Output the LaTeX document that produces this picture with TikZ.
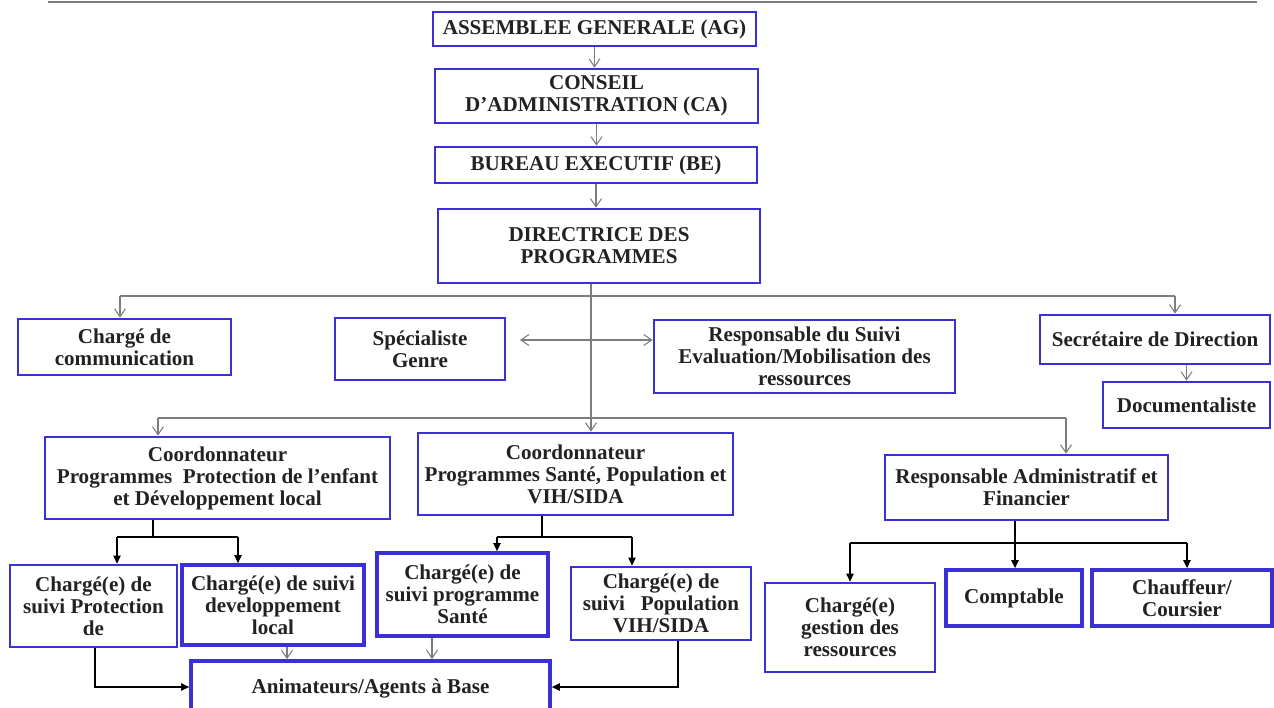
\documentclass[tikz,border=0pt]{standalone}
\usepackage{fontspec}
\setmainfont{Liberation Serif}
\usetikzlibrary{arrows.meta}
\definecolor{boxblue}{RGB}{58,48,212}
\definecolor{txtdark}{RGB}{34,34,34}
\definecolor{linegray}{RGB}{125,125,125}
\tikzset{
  box/.style={draw=boxblue,line width=1.6pt,fill=white,align=center,inner sep=0pt,
    font=\bfseries\fontsize{12}{12.5}\selectfont,text=txtdark},
  boxb/.style={box,line width=2.2pt},
  gline/.style={draw=linegray,line width=0.6pt},
  garrow/.style={gline,-{Straight Barb[length=1.6mm,width=2.2mm]}},
  gboth/.style={gline,{Straight Barb[length=1.6mm,width=2.2mm]}-{Straight Barb[length=1.6mm,width=2.2mm]}},
  bline/.style={draw=black,line width=0.6pt},
  barrow/.style={bline,-{Triangle[length=1.6mm,width=1.5mm]}}
}

\begin{document}
\begin{tikzpicture}[x=0.02cm,y=-0.02cm]
\useasboundingbox (0,0) rectangle (1274,707);
\clip (0,0) rectangle (1274,707);
\fill[white] (0,0) rectangle (1274,707);
\draw[draw=linegray,line width=1.5pt] (48,2) -- (1257,2);

% direction
\node[box,minimum width=6.46cm,minimum height=0.68cm] (ag) at (594.5,29) {ASSEMBLEE GENERALE (AG)};
\node[box,minimum width=6.46cm,minimum height=1.08cm] (ca) at (596.5,96) {CONSEIL\\D'ADMINISTRATION (CA)};
\node[box,minimum width=6.44cm,minimum height=0.72cm] (be) at (596,165) {BUREAU EXECUTIF (BE)};
\node[box,minimum width=6.44cm,minimum height=1.48cm] (dp) at (599,246) {DIRECTRICE DES\\PROGRAMMES};

% staff
\node[box,minimum width=4.26cm,minimum height=1.12cm] (com) at (124.5,347) {Chargé de\\communication};
\node[box,minimum width=3.40cm,minimum height=1.24cm] (gen) at (420,349) {Spécialiste\\Genre};
\node[box,minimum width=6.02cm,minimum height=1.46cm] (rse) at (804.5,356.5) {Responsable du Suivi\\Evaluation/Mobilisation des\\ressources};
\node[box,minimum width=4.60cm,minimum height=0.98cm] (sec) at (1155,339.5) {Secrétaire de Direction};
\node[box,minimum width=3.34cm,minimum height=0.92cm] (doc) at (1186.5,405) {Documentaliste};

% coordination
\node[box,minimum width=6.90cm,minimum height=1.64cm] (cpe) at (217.5,478) {Coordonnateur\\Programmes\ \ Protection de l'enfant\\et Développement local};
\node[box,minimum width=6.30cm,minimum height=1.64cm] (cps) at (575.5,474) {Coordonnateur\\Programmes Santé, Population et\\VIH/SIDA};
\node[box,minimum width=5.66cm,minimum height=1.30cm] (raf) at (1026.5,487.5) {Responsable Administratif et\\Financier};

% suivi
\node[box,minimum width=3.34cm,minimum height=1.64cm] (spr) at (93.5,606) {Chargé(e) de\\suivi Protection\\de};
\node[boxb,minimum width=3.64cm,minimum height=1.60cm] (sdl) at (273,605) {Chargé(e) de suivi\\developpement\\local};
\node[boxb,minimum width=3.42cm,minimum height=1.66cm] (ssa) at (462.5,594.5) {Chargé(e) de\\suivi programme\\Santé};
\node[box,minimum width=3.60cm,minimum height=1.46cm] (spo) at (661,603.5) {Chargé(e) de\\suivi\ \ \ Population\\VIH/SIDA};
\node[box,minimum width=3.40cm,minimum height=1.78cm] (gre) at (850,627.5) {Chargé(e)\\gestion des\\ressources};
\node[boxb,minimum width=2.72cm,minimum height=1.12cm] (cpt) at (1014,598) {Comptable};
\node[boxb,minimum width=3.60cm,minimum height=1.12cm] (chf) at (1182,598) {Chauffeur/\\Coursier};
\node[boxb,minimum width=7.18cm,minimum height=1.08cm] (ani) at (370.5,688) {Animateurs/Agents à Base};

% gray links
\coordinate (j1) at (591,296);
\coordinate (a1) at (120,296);
\coordinate (a2) at (1175,296);
\coordinate (g1) at (520,340);
\coordinate (b1) at (158,418);
\coordinate (b2) at (1066,418);
\draw[garrow] (ag.south) -- (ag.south |- ca.north);
\draw[garrow] (ca.south) -- (ca.south |- be.north);
\draw[garrow] (be.south) -- (be.south |- dp.north);
\draw[garrow] (j1 |- dp.south) -- (j1 |- cps.north);
\draw[gline] (a1) -- (a2);
\draw[garrow] (a1) -- (a1 |- com.north);
\draw[garrow] (a2) -- (a2 |- sec.north);
\draw[gboth] (g1) -- (g1 -| rse.west);
\draw[garrow] (doc.north |- sec.south) -- (doc.north);
\draw[gline] (b1) -- (b2);
\draw[garrow] (b1) -- (b1 |- cpe.north);
\draw[garrow] (b2) -- (b2 |- raf.north);

% black links
\coordinate (k1) at (153,537);
\coordinate (k1l) at (117,537);
\coordinate (k1r) at (238,537);
\draw[bline] (k1 |- cpe.south) -- (k1);
\draw[bline] (k1l) -- (k1r);
\draw[barrow] (k1l) -- (k1l |- spr.north);
\draw[barrow] (k1r) -- (k1r |- sdl.north);
\coordinate (k2) at (542,537);
\coordinate (k2l) at (497,537);
\coordinate (k2r) at (632,537);
\draw[bline] (k2 |- cps.south) -- (k2);
\draw[bline] (k2l) -- (k2r);
\draw[barrow] (k2l) -- (k2l |- ssa.north);
\draw[barrow] (k2r) -- (k2r |- spo.north);
\coordinate (k3) at (1015,543);
\coordinate (k3l) at (850,543);
\coordinate (k3r) at (1187,543);
\draw[barrow] (k3 |- raf.south) -- (k3 |- cpt.north);
\draw[bline] (k3l) -- (k3r);
\draw[barrow] (k3l) -- (k3l |- gre.north);
\draw[barrow] (k3r) -- (k3r |- chf.north);

% to animateurs
\coordinate (m1) at (95,687);
\coordinate (m2) at (678,687);
\coordinate (m3) at (287,660);
\coordinate (m4) at (432,660);
\draw[barrow] (m1 |- spr.south) -- (m1) -- (m1 -| ani.west);
\draw[barrow] (m2 |- spo.south) -- (m2) -- (m2 -| ani.east);
\draw[garrow] (m3 |- sdl.south) -- (m3 |- ani.north);
\draw[garrow] (m4 |- ssa.south) -- (m4 |- ani.north);
\end{tikzpicture}
\end{document}
